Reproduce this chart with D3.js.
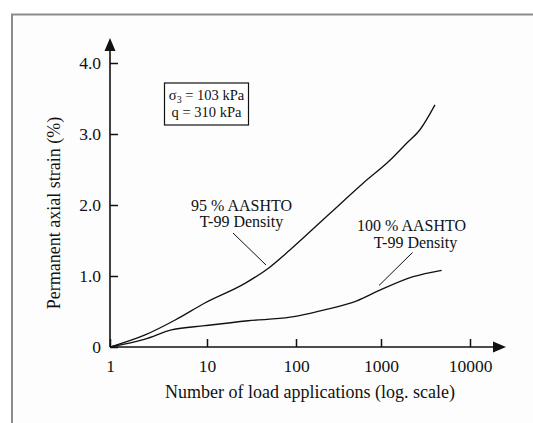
<!DOCTYPE html>
<html>
<head>
<meta charset="utf-8">
<script src="https://cdn.jsdelivr.net/npm/d3@7"></script>
<style>
  html, body { margin: 0; padding: 0; background: #ffffff; }
  svg { display: block; }
  text { font-family: "Liberation Serif", "Times New Roman", serif; fill: #111; }
</style>
</head>
<body>
<svg id="chart" width="533" height="423"></svg>
<script>
// Load applications (log scale) and permanent axial strain (%)
const loadDecades = [1, 10, 100, 1000, 10000];
const xTickLabels = ["1", "10", "100", "1000", "10000"];
const strainTicks = [0, 1, 2, 3, 4];
const yTickLabels = ["0", "1.0", "2.0", "3.0", "4.0"];

// 95 % AASHTO T-99 density
const cycles95 = [1, 2.3, 4.7, 9.5, 27, 49, 86, 250, 620, 1260, 1940, 2740, 4040];
const strain95 = [0, 0.17, 0.38, 0.62, 0.90, 1.11, 1.37, 1.88, 2.31, 2.63, 2.87, 3.06, 3.41];

// 100 % AASHTO T-99 density
const cycles100 = [1, 2.3, 4.3, 9.5, 29, 86, 128, 210, 520, 970, 2300, 4800];
const strain100 = [0, 0.11, 0.24, 0.30, 0.37, 0.42, 0.46, 0.52, 0.65, 0.80, 0.99, 1.08];

const svg = d3.select("#chart");

// outer frame
svg.append("rect")
  .attr("x", 12).attr("y", 14.5)
  .attr("width", 560).attr("height", 440)
  .attr("fill", "#fdfdfd")
  .attr("stroke", "#8c8c8c").attr("stroke-width", 2);

// hand-spaced decades on the printed axis
const x = d3.scaleLog().domain(loadDecades).range([110, 207, 296, 381, 470]);
const y = d3.scaleLinear().domain([0, 4]).range([347, 63]);

const ink = "#111";

// y axis
const yAxis = d3.axisLeft(y)
  .tickValues(strainTicks)
  .tickFormat((d, i) => yTickLabels[i])
  .tickSizeInner(-8).tickSizeOuter(0).tickPadding(9);
const gy = svg.append("g").attr("transform", `translate(${x(1)},0)`).call(yAxis);
gy.select(".domain").remove();
gy.selectAll(".tick line").attr("stroke", ink).attr("stroke-width", 1.5);
gy.selectAll(".tick text").attr("font-size", 17.5).attr("font-family", "Liberation Serif").attr("fill", ink);

// x axis
const xAxis = d3.axisBottom(x)
  .tickValues(loadDecades)
  .tickFormat((d, i) => xTickLabels[i])
  .tickSizeInner(-8).tickSizeOuter(0).tickPadding(13);
const gx = svg.append("g").attr("transform", `translate(0,${y(0)})`).call(xAxis);
gx.select(".domain").remove();
gx.selectAll(".tick line").attr("stroke", ink).attr("stroke-width", 1.5);
gx.selectAll(".tick text").attr("font-size", 17.5).attr("font-family", "Liberation Serif").attr("fill", ink);

// axis lines with arrowheads
const x0 = x(1), y0 = y(0);
svg.append("line").attr("x1", x0).attr("y1", y0).attr("x2", x0).attr("y2", 50)
  .attr("stroke", ink).attr("stroke-width", 1.6);
svg.append("path").attr("d", `M${x0},38 L${x0 - 5.5},51 L${x0 + 5.5},51 Z`).attr("fill", ink);
svg.append("line").attr("x1", x0).attr("y1", y0).attr("x2", 494).attr("y2", y0)
  .attr("stroke", ink).attr("stroke-width", 1.6);
svg.append("path").attr("d", `M506,${y0} L493,${y0 - 5.5} L493,${y0 + 5.5} Z`).attr("fill", ink);

// curves
const line = d3.line().x(d => x(d[0])).y(d => y(d[1])).curve(d3.curveMonotoneX);
svg.append("path")
  .datum(d3.zip(cycles95, strain95))
  .attr("d", line).attr("fill", "none").attr("stroke", ink).attr("stroke-width", 1.3);
svg.append("path")
  .datum(d3.zip(cycles100, strain100))
  .attr("d", line).attr("fill", "none").attr("stroke", ink).attr("stroke-width", 1.3);

// curve labels with leader lines
function label(lines, cx, baselines) {
  lines.forEach((t, i) => {
    svg.append("text").attr("x", cx[i]).attr("y", baselines[i])
      .attr("text-anchor", "middle").attr("font-size", 16).text(t);
  });
}
label(["95 % AASHTO", "T-99 Density"], [241.5, 241.5], [210.5, 227]);
svg.append("line").attr("x1", 233).attr("y1", 233).attr("x2", 266).attr("y2", 265)
  .attr("stroke", ink).attr("stroke-width", 1);
label(["100 % AASHTO", "T-99 Density"], [411.5, 415.5], [231, 247.5]);
svg.append("line").attr("x1", 412.5).attr("y1", 252.5).attr("x2", 379).attr("y2", 285.5)
  .attr("stroke", ink).attr("stroke-width", 1);

// test conditions box
svg.append("rect").attr("x", 164.5).attr("y", 83).attr("width", 84).attr("height", 42)
  .attr("fill", "#fff").attr("stroke", ink).attr("stroke-width", 1.2);
const s1 = svg.append("text").attr("x", 206.5).attr("y", 99.5)
  .attr("text-anchor", "middle").attr("font-size", 14.5);
s1.append("tspan").text("σ");
s1.append("tspan").attr("font-size", 10).attr("dy", 3).text("3");
s1.append("tspan").attr("dy", -3).text(" = 103 kPa");
svg.append("text").attr("x", 206.5).attr("y", 116.5)
  .attr("text-anchor", "middle").attr("font-size", 14.5).text("q = 310 kPa");

// axis titles
svg.append("text").attr("x", 310).attr("y", 398)
  .attr("text-anchor", "middle").attr("font-size", 18)
  .text("Number of load applications (log. scale)");
svg.append("text")
  .attr("transform", "translate(60,213) rotate(-90)")
  .attr("text-anchor", "middle").attr("font-size", 18)
  .text("Permanent axial strain (%)");
</script>
</body>
</html>
